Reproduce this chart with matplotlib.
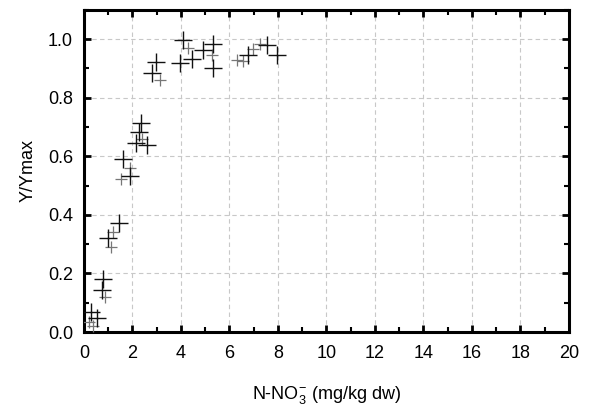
import matplotlib
matplotlib.use("Agg")
import matplotlib.pyplot as plt
from matplotlib.ticker import MultipleLocator

plt.rcParams['font.family'] = ['Liberation Sans', 'DejaVu Sans']
plt.rcParams['mathtext.fontset'] = 'custom'
plt.rcParams['mathtext.rm'] = 'Liberation Sans'
plt.rcParams['mathtext.it'] = 'Liberation Sans'

# main series (bold crosses)
x_main = [0.30, 0.54, 0.77, 0.74, 0.98, 1.43, 1.62, 1.88, 2.34, 2.28, 2.14, 2.58,
          2.97, 2.79, 4.10, 3.96, 4.44, 4.92, 5.33, 5.31, 6.78, 7.53, 7.95]
y_main = [0.068, 0.048, 0.180, 0.143, 0.320, 0.372, 0.590, 0.532, 0.715, 0.682, 0.646, 0.638,
          0.922, 0.885, 0.997, 0.919, 0.934, 0.962, 0.983, 0.903, 0.945, 0.980, 0.945]
# secondary series (faint crosses)
x_sec = [0.20, 0.37, 0.87, 1.12, 1.20, 1.52, 1.90, 2.40, 3.13, 4.30, 5.27, 6.30, 6.98, 7.26, 6.55]
y_sec = [0.034, 0.020, 0.120, 0.290, 0.340, 0.523, 0.560, 0.660, 0.862, 0.970, 0.945, 0.930, 0.965, 0.985, 0.925]

x_ticks = list(range(0, 21, 2))
y_ticks = [0.0, 0.2, 0.4, 0.6, 0.8, 1.0]

fig = plt.figure(figsize=(5.89, 4.12), dpi=100)
ax = fig.add_axes([0.1426, 0.194, 0.8234, 0.782])

ax.plot(x_sec, y_sec, linestyle='none', marker='+', markersize=9, mew=0.9, color='#777777', zorder=3)
ax.plot(x_main, y_main, linestyle='none', marker='+', markersize=13, mew=1.0, color='#111111', zorder=4)

ax.set_xlim(0, 20)
ax.set_ylim(0, 1.1)
ax.set_xticks(x_ticks)
ax.set_yticks(y_ticks)
ax.set_xticklabels([str(t) for t in x_ticks])
ax.set_yticklabels([f"{t:.1f}" for t in y_ticks])
ax.xaxis.set_minor_locator(MultipleLocator(1))
ax.yaxis.set_minor_locator(MultipleLocator(0.1))

ax.grid(True, which='major', linestyle=(0, (4, 3)), color='#c8c8c8', linewidth=0.8)
ax.set_axisbelow(True)

for s in ax.spines.values():
    s.set_linewidth(2.2)
    s.set_color('black')

ax.tick_params(which='both', direction='in', top=True, right=True, labelsize=13, colors='black')
ax.tick_params(which='major', length=5, width=2, pad=9)
ax.tick_params(which='minor', length=3.5, width=1.5)
ax.tick_params(axis='y', which='major', pad=8)

ax.set_xlabel("N-NO$_3^{-}$ (mg/kg dw)", fontsize=13, labelpad=16)
ax.set_ylabel("Y/Ymax", fontsize=13, labelpad=8)

fig.savefig("out.png", dpi=100)
